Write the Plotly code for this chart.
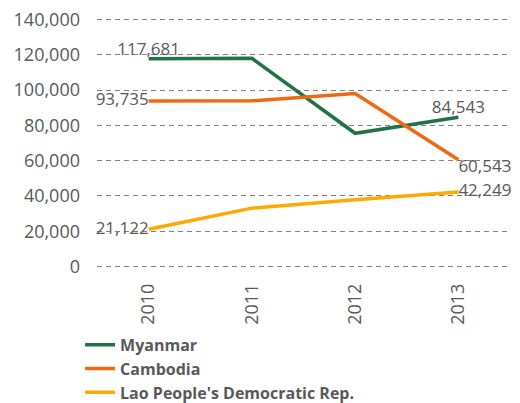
import plotly.graph_objects as go

years = ["2010", "2011", "2012", "2013"]
myanmar = [117681, 118000, 75500, 84543]
cambodia = [93735, 93900, 98000, 60543]
lao = [21122, 33100, 37800, 42249]

grey = "#595959"
font_family = "Open Sans"

fig = go.Figure()

def add_line(name, values, color, positions):
    labels = [f"{v:,}" if p else "" for v, p in zip(values, positions)]
    fig.add_trace(go.Scatter(
        x=years, y=values, name=name, mode="lines+text",
        line=dict(color=color, width=3.5),
        text=labels, textposition=[p or "top center" for p in positions],
        textfont=dict(color=grey, size=17, family=font_family),
        cliponaxis=False,
    ))

add_line("Myanmar", myanmar, "#217346", ["top center", None, None, "top center"])
add_line("Cambodia", cambodia, "#EE6A12", ["middle left", None, None, "bottom right"])
add_line("Lao People's Democratic Rep.", lao, "#FFA800", ["middle left", None, None, "middle right"])

# page body keeps its 8px margin, so the figure is sized to fit inside the window
fig.update_layout(
    width=512, height=395,
    margin=dict(l=89, r=10, t=6.6, b=131.6, autoexpand=False),
    plot_bgcolor="white", paper_bgcolor="white",
    font=dict(family=font_family, color=grey, size=18),
    legend=dict(orientation="v", x=-0.041, y=-0.222, xanchor="left", yanchor="top",
                font=dict(size=16, color=grey, family=font_family, weight="bold"),
                tracegroupgap=0, itemwidth=30),
    showlegend=True,
)
fig.update_xaxes(tickangle=-90, showgrid=False, showline=False, ticks="",
                 range=[-0.5, 3.5], ticklabelstandoff=8, automargin=False,
                 tickfont=dict(size=18, color=grey))
fig.update_yaxes(range=[-2500, 142500], dtick=20000, tickformat=",", showgrid=True,
                 gridcolor="#808080", griddash="5px,4px", gridwidth=1, zeroline=False,
                 ticks="", ticklabelstandoff=16, automargin=False,
                 ticklabeloverflow="allow", tickfont=dict(size=18, color=grey))

fig.write_html("out.html")
